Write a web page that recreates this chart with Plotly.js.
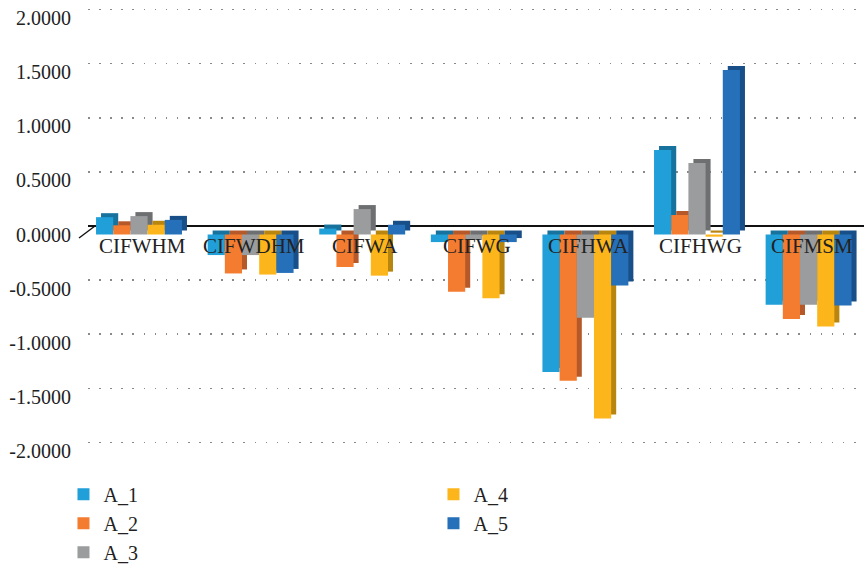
<!DOCTYPE html>
<html>
<head>
<meta charset="utf-8">
<script src="https://cdn.plot.ly/plotly-3.0.1.min.js"></script>
<style>html,body{margin:0;padding:0;background:#fff;}#chart{width:864px;height:565px;}</style>
</head>
<body>
<div id="chart"></div>
<script>
// ---- data ----
const categories = ['CIFWHM', 'CIFWDHM', 'CIFWA', 'CIFWG', 'CIFHWA', 'CIFHWG', 'CIFMSM'];
const seriesNames = ['A_1', 'A_2', 'A_3', 'A_4', 'A_5'];
const A_1 = [0.160, -0.190, 0.055, -0.070, -1.270, 0.780, -0.650];
const A_2 = [0.085, -0.360, -0.300, -0.530, -1.350, 0.180, -0.780];
const A_3 = [0.170, -0.190, 0.235, -0.050, -0.770, 0.660, -0.650];
const A_4 = [0.090, -0.370, -0.380, -0.590, -1.700, -0.020, -0.850];
const A_5 = [0.135, -0.355, 0.090, -0.070, -0.470, 1.520, -0.655];
const tickValues = [-2, -1.5, -1, -0.5, 0, 0.5, 1, 1.5, 2];
const tickLabels = tickValues.map(v => v.toFixed(4));

// ---- style ----
const series = [A_1, A_2, A_3, A_4, A_5];
const faceColors = ['#209FD9', '#F47C30', '#9A9C9D', '#FCB51A', '#2570B8'];
const sideColors = ['#17739E', '#B5592A', '#6D6F70', '#B8850F', '#184F88'];
const legendRanks = [1, 3, 5, 2, 4];
const FONT = 'Liberation Serif, Times New Roman, serif';

// pixel geometry of the plot area
const W = 776, H = 455;           // plot area size
const pxPerCat = 111.6, pxPerUnit = 108.25;
const cat0Px = 51;                // distance from left edge to first category centre
const zeroFrontPx = 229.5;        // from top of plot area
const depthX = 5, depthY = 4, wallY = 8.5;

const xr = [-cat0Px / pxPerCat, (W - cat0Px) / pxPerCat];
const yr = (z) => [-(H - z) / pxPerUnit, z / pxPerUnit];

const traces = [];
// placeholder on base subplot (back wall grid)
traces.push({x: [], y: [], type: 'scatter', xaxis: 'x', yaxis: 'y', showlegend: false, hoverinfo: 'skip'});
// depth (side / top) faces
series.forEach((vals, i) => {
  traces.push({
    type: 'bar', x: categories, y: vals, xaxis: 'x2', yaxis: 'y2',
    marker: {color: sideColors[i], line: {width: 0}}, showlegend: false, hoverinfo: 'skip'
  });
});
// front faces
series.forEach((vals, i) => {
  traces.push({
    type: 'bar', name: seriesNames[i], x: categories, y: vals, xaxis: 'x3', yaxis: 'y3',
    marker: {color: faceColors[i], line: {width: 0}}, legendrank: legendRanks[i]
  });
});

const hiddenX = {showgrid: false, zeroline: false, showline: false, showticklabels: false, ticks: ''};

const layout = {
  width: 864, height: 565,
  margin: {l: 88, r: 0, t: 5, b: 105, autoexpand: false},
  paper_bgcolor: '#fff', plot_bgcolor: '#fff',
  font: {family: FONT, size: 20, color: '#222'},
  barmode: 'group', bargap: 0.23, bargroupgap: 0,
  showlegend: true,
  legend: {
    orientation: 'h', x: -0.0316, xanchor: 'left', y: -0.0324, yanchor: 'top',
    entrywidth: 325, entrywidthmode: 'pixels', traceorder: 'normal',
    font: {family: FONT, size: 20, color: '#222'}, tracegroupgap: 0
  },
  xaxis: Object.assign({type: 'linear', range: [0, 1]}, hiddenX),
  yaxis: {
    range: yr(zeroFrontPx - wallY), tickvals: tickValues, showticklabels: false, ticks: '',
    showgrid: true, gridcolor: '#8a8a8a', gridwidth: 1.6, griddash: '1.6px,9.5px',
    zeroline: true, zerolinecolor: '#111', zerolinewidth: 1.6, showline: false
  },
  xaxis2: Object.assign({type: 'category', overlaying: 'x', range: [xr[0] - depthX / pxPerCat, xr[1] - depthX / pxPerCat]}, hiddenX),
  yaxis2: Object.assign({overlaying: 'y', range: yr(zeroFrontPx - depthY)}, hiddenX),
  xaxis3: Object.assign({type: 'category', overlaying: 'x', range: xr}, hiddenX),
  yaxis3: {
    overlaying: 'y', side: 'left', range: yr(zeroFrontPx),
    tickvals: tickValues, ticktext: tickLabels, ticks: '', ticklabelstandoff: 16,
    showgrid: false, zeroline: false, showline: false,
    tickfont: {family: FONT, size: 20, color: '#222'}
  },
  shapes: [{
    type: 'line', xref: 'paper', yref: 'y', x0: -9 / W, y0: -(wallY + 3.5) / pxPerUnit, x1: 7 / W, y1: 0,
    line: {color: '#111', width: 1.4}
  }],
  annotations: categories.map(c => ({
    x: c, y: 0, xref: 'x3', yref: 'y3', text: c, showarrow: false,
    xanchor: 'center', yanchor: 'middle', xshift: 3, yshift: -11,
    font: {family: FONT, size: 21, color: '#222'}
  }))
};

Plotly.newPlot('chart', traces, layout, {displayModeBar: false, staticPlot: true});
</script>
</body>
</html>
